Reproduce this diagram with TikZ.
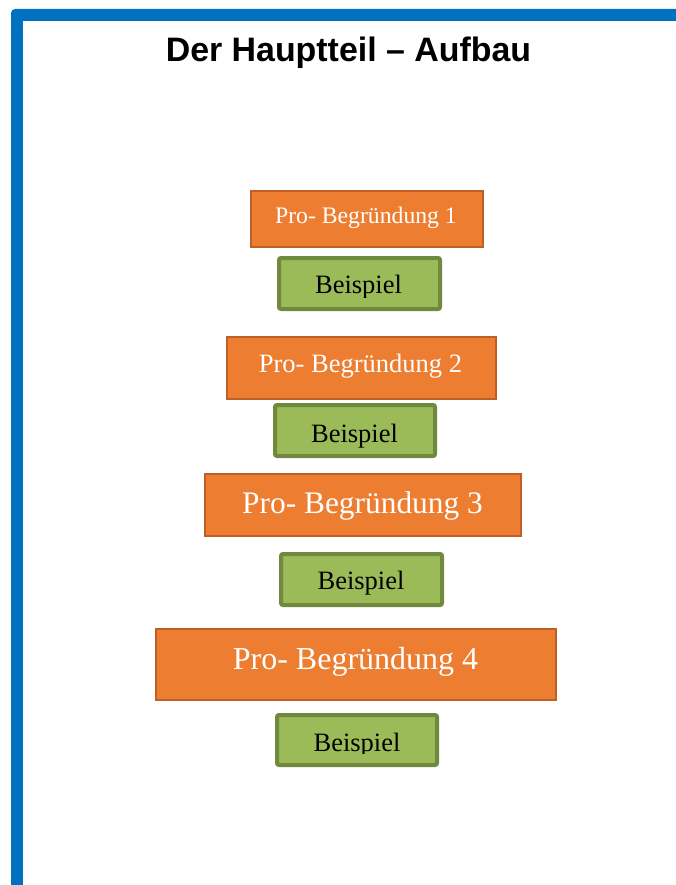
\documentclass[tikz,border=0pt]{standalone}
\usepackage{fontspec}
\setmainfont{Liberation Serif}
\newfontfamily\titlefont{Liberation Sans}
\definecolor{frameblue}{HTML}{0070C0}
\definecolor{orfill}{HTML}{ED7D31}
\definecolor{ordraw}{HTML}{BE5F25}
\definecolor{grfill}{HTML}{9BBB59}
\definecolor{grdraw}{HTML}{71893F}
\tikzset{
  probox/.style={draw=ordraw, fill=orfill, line width=2pt, inner sep=0pt},
  bspbox/.style={draw=grdraw, fill=grfill, line width=4pt, rounded corners=2pt, inner sep=0pt},
  protext/.style={anchor=base, inner sep=0pt, text=white},
  bsptext/.style={anchor=base, inner sep=0pt, text=black, font=\fontsize{26.5}{30}\selectfont},
}
\begin{document}
\begin{tikzpicture}[x=1pt,y=-1pt]
\useasboundingbox (0,0) rectangle (676,885);
\clip (0,0) rectangle (676,885);
\fill[white] (0,0) rectangle (676,885);
% blue frame
\fill[frameblue, rounded corners=4pt] (11,9) rectangle (720,920);
\fill[white] (23,21) rectangle (720,920);
% title
\node[anchor=base, inner sep=0pt, font=\titlefont\bfseries\fontsize{33.9}{38}\selectfont] (title) at (348.5,62) {Der Hauptteil – Aufbau};
% boxes
\node[probox, minimum width=232pt, minimum height=56pt] (p1) at (367,219) {};
\node[protext, font=\fontsize{23.7}{28}\selectfont] (p1t) at (366,223) {Pro- Begründung 1};
\node[bspbox, minimum width=161pt, minimum height=51pt] (b1) at (359.5,283.5) {};
\begin{scope}
\clip (270,250) rectangle (450,297);
\node[bsptext] (b1t) at (358.5,293) {Beispiel};
\end{scope}

\node[probox, minimum width=269pt, minimum height=62pt] (p2) at (361.5,368) {};
\node[protext, font=\fontsize{26.5}{30}\selectfont] (p2t) at (360.5,372) {Pro- Begründung 2};
\node[bspbox, minimum width=160pt, minimum height=51pt] (b2) at (355,430.5) {};
\node[bsptext] (b2t) at (354.5,442) {Beispiel};

\node[probox, minimum width=316pt, minimum height=62pt] (p3) at (363,505) {};
\node[protext, font=\fontsize{31.4}{36}\selectfont] (p3t) at (362.5,513) {Pro- Begründung 3};
\node[bspbox, minimum width=161pt, minimum height=51pt] (b3) at (361.5,579.5) {};
\node[bsptext] (b3t) at (361,589) {Beispiel};

\node[probox, minimum width=400pt, minimum height=71pt] (p4) at (356,664.5) {};
\node[protext, font=\fontsize{32}{36}\selectfont] (p4t) at (355.5,669) {Pro- Begründung 4};
\node[bspbox, minimum width=160pt, minimum height=50pt] (b4) at (357,740) {};
\begin{scope}
\clip (270,710) rectangle (450,753);
\node[bsptext] (b4t) at (357,751) {Beispiel};
\end{scope}
\end{tikzpicture}
\end{document}
